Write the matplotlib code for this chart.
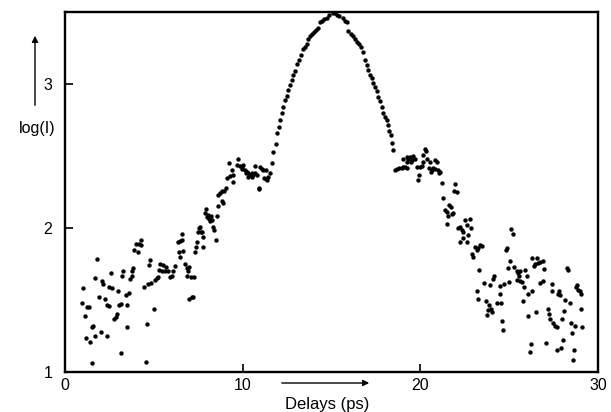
import matplotlib
matplotlib.use("Agg")
import matplotlib.pyplot as plt

plt.rcParams['font.family'] = ['Liberation Sans', 'DejaVu Sans']

# delay (ps) and log(I), left to right in rough groups
delay = [
    # wings, 1-5 ps
    1.78, 4.30, 3.98, 4.16, 4.25, 3.88, 4.11, 4.78, 4.73, 2.57, 3.28, 3.22, 3.81, 3.75, 3.79,
    1.69, 2.06, 2.16, 1.03, 2.48, 2.66, 2.98, 3.66, 4.45, 4.67, 4.86, 3.60, 3.41, 1.91, 2.25,
    0.97, 1.26, 1.35, 2.38, 2.48, 3.17, 3.06, 3.51, 1.13, 2.94, 2.85, 2.76, 5.01, 1.59, 1.54,
    3.51, 4.63, 2.01, 2.35, 1.67, 1.20, 1.41, 3.17, 1.50, 4.58,
    # 5-7.5 ps
    5.35, 5.53, 5.68, 5.27, 5.44, 5.63, 5.81, 6.19, 6.38, 6.47, 6.57, 6.60, 6.43, 6.66, 6.47,
    6.73, 6.85, 6.94, 7.00, 6.88, 7.07, 7.28, 6.06, 6.00, 5.91, 5.25, 5.16, 5.06, 6.98, 7.17, 7.22,
    # 7.3-9.8 ps
    9.75, 9.25, 9.38, 9.47, 9.29, 9.13, 9.47, 9.06, 8.95, 8.82, 8.72, 8.63, 8.82, 8.91, 8.63,
    7.93, 7.88, 8.07, 8.01, 8.12, 8.20, 8.25, 8.16, 8.54, 8.35, 8.40, 7.60, 7.56, 7.50, 7.64,
    7.69, 7.78, 8.50, 7.41, 7.35, 7.75, 7.32,
    # shoulder 9.6-11.6 ps
    9.66, 9.85, 9.98, 9.94, 10.13, 10.22, 10.32, 10.41, 10.51, 10.60, 10.69, 10.79, 10.32, 10.51,
    10.69, 10.97, 11.07, 11.16, 11.31, 11.44, 11.39, 11.31, 11.20, 10.90, 10.94, 11.54, 10.00, 10.19,
    # central peak
    11.63, 11.72, 11.87, 11.95, 12.06, 12.10, 12.19, 12.25, 12.38, 12.47, 12.57, 12.66, 12.76,
    12.85, 12.94, 13.07, 13.19, 13.28, 13.41, 13.51, 13.60, 13.69, 13.79, 13.88, 14.01, 14.12,
    14.25, 14.35, 14.45, 14.58, 14.72, 14.87, 15.06, 15.19, 15.32, 15.44, 15.63, 15.76, 15.85,
    15.94, 16.08, 16.22, 16.32, 16.42, 16.56, 16.66, 16.79, 16.88, 16.98, 17.07, 17.16, 17.26,
    17.35, 17.45, 17.54, 17.63, 17.73, 17.82, 17.91, 18.01, 18.10, 18.20, 18.25,
    # shoulder 18.3-21.3 ps
    18.33, 18.38, 18.44, 19.04, 19.23, 19.32, 19.41, 19.51, 19.60, 19.70, 19.26, 19.45, 18.57,
    18.66, 18.81, 18.95, 19.04, 19.13, 19.23, 19.79, 19.98, 20.07, 20.26, 20.32, 20.16, 20.39,
    20.54, 20.82, 20.92, 20.16, 20.50, 20.63, 20.73, 20.58, 20.82, 21.01, 21.10, 21.06, 19.94,
    19.88, 21.20,
    # 21.3-23.3 ps
    21.95, 21.89, 22.04, 21.29, 21.63, 21.70, 21.38, 21.48, 21.57, 21.82, 21.76, 21.51, 22.51,
    22.79, 22.60, 22.83, 22.23, 22.13, 22.32, 22.41, 22.70, 22.38, 22.23, 22.60, 23.07, 23.17,
    22.89, 22.98, 23.32, 23.20, 23.26,
    # wings, 23.3-29.2 ps
    23.35, 23.48, 23.26, 24.86, 24.80, 23.60, 23.92, 24.16, 24.10, 24.48, 24.72, 24.48, 23.67,
    23.86, 23.97, 23.82, 24.05, 23.73, 24.29, 24.54, 24.61, 24.67, 25.04, 24.95, 25.29, 25.42,
    25.48, 25.61, 25.89, 25.98, 25.57, 25.42, 25.61, 25.70, 24.99, 25.85, 26.30, 26.54, 26.45,
    26.60, 26.73, 26.92, 26.41, 26.97, 26.73, 26.92, 26.30, 26.04, 25.79, 26.49, 26.07, 26.22,
    26.17, 27.10, 27.16, 27.24, 27.29, 27.48, 27.57, 27.67, 27.39, 27.39, 27.80, 27.86, 27.76,
    28.10, 27.99, 28.05, 27.72, 27.91, 28.23, 28.29, 28.17, 28.42, 28.47, 28.70, 28.51, 28.79,
    28.88, 28.98, 29.04, 28.74, 29.04, 29.11, 28.66, 28.57, 25.13, 25.19,
]

log_i = [
    1.785, 1.92, 1.89, 1.89, 1.885, 1.85, 1.83, 1.78, 1.74, 1.69, 1.70, 1.67, 1.72, 1.70, 1.67,
    1.65, 1.63, 1.61, 1.585, 1.59, 1.58, 1.565, 1.645, 1.59, 1.61, 1.62, 1.55, 1.535, 1.52, 1.51,
    1.48, 1.45, 1.45, 1.465, 1.455, 1.47, 1.465, 1.465, 1.39, 1.40, 1.385, 1.37, 1.44, 1.32, 1.31,
    1.315, 1.33, 1.28, 1.25, 1.25, 1.235, 1.21, 1.13, 1.065, 1.07,
    1.75, 1.74, 1.73, 1.71, 1.70, 1.70, 1.70, 1.735, 1.905, 1.91, 1.92, 1.96, 1.835, 1.84, 1.80,
    1.75, 1.72, 1.70, 1.73, 1.67, 1.66, 1.66, 1.70, 1.67, 1.66, 1.66, 1.65, 1.64, 1.51, 1.52, 1.52,
    2.48, 2.45, 2.40, 2.37, 2.36, 2.35, 2.32, 2.275, 2.26, 2.26, 2.24, 2.23, 2.19, 2.175, 2.15,
    2.13, 2.105, 2.09, 2.075, 2.06, 2.08, 2.055, 2.05, 2.08, 2.01, 1.985, 2.01, 2.00, 1.975, 1.97,
    1.975, 1.94, 1.92, 1.905, 1.87, 1.865, 1.83,
    2.44, 2.43, 2.425, 2.41, 2.405, 2.39, 2.38, 2.37, 2.38, 2.37, 2.385, 2.37, 2.355, 2.355,
    2.43, 2.425, 2.41, 2.40, 2.40, 2.355, 2.33, 2.34, 2.345, 2.28, 2.27, 2.385, 2.44, 2.38,
    2.45, 2.53, 2.58, 2.66, 2.70, 2.75, 2.80, 2.84, 2.89, 2.92, 2.96, 2.99, 3.03,
    3.06, 3.09, 3.14, 3.17, 3.20, 3.24, 3.26, 3.28, 3.31, 3.33, 3.35, 3.36, 3.375,
    3.39, 3.43, 3.44, 3.45, 3.46, 3.48, 3.49, 3.49, 3.48, 3.47, 3.455, 3.44, 3.43,
    3.37, 3.35, 3.33, 3.31, 3.29, 3.275, 3.255, 3.225, 3.17, 3.13, 3.10, 3.06, 3.04,
    3.005, 2.98, 2.95, 2.91, 2.88, 2.84, 2.80, 2.77, 2.75, 2.715, 2.675,
    2.645, 2.59, 2.54, 2.48, 2.495, 2.48, 2.49, 2.47, 2.50, 2.48, 2.46, 2.46, 2.40,
    2.41, 2.415, 2.42, 2.425, 2.425, 2.415, 2.425, 2.425, 2.43, 2.55, 2.535, 2.51, 2.48,
    2.455, 2.47, 2.46, 2.455, 2.415, 2.40, 2.42, 2.39, 2.41, 2.40, 2.39, 2.38, 2.37,
    2.33, 2.315,
    2.305, 2.26, 2.25, 2.205, 2.16, 2.145, 2.125, 2.11, 2.085, 2.105, 2.10, 2.03, 2.055,
    2.06, 2.02, 2.00, 2.01, 2.00, 1.985, 1.975, 1.95, 1.93, 1.905, 1.905, 1.865, 1.85,
    1.82, 1.80, 1.71, 1.565, 1.51,
    1.88, 1.875, 1.86, 1.86, 1.85, 1.62, 1.605, 1.67, 1.645, 1.60, 1.61, 1.54, 1.49,
    1.465, 1.44, 1.43, 1.42, 1.395, 1.48, 1.48, 1.355, 1.29, 1.77, 1.72, 1.73, 1.70,
    1.685, 1.70, 1.705, 1.665, 1.67, 1.64, 1.635, 1.625, 1.625, 1.59, 1.795, 1.795, 1.75,
    1.76, 1.765, 1.77, 1.735, 1.715, 1.615, 1.635, 1.565, 1.545, 1.495, 1.42, 1.39, 1.195,
    1.14, 1.20, 1.44, 1.40, 1.37, 1.34, 1.32, 1.31, 1.61, 1.565, 1.56, 1.535, 1.545,
    1.425, 1.365, 1.225, 1.15, 1.17, 1.72, 1.705, 1.50, 1.48, 1.34, 1.32, 1.27, 1.605,
    1.57, 1.56, 1.545, 1.59, 1.44, 1.31, 1.15, 1.08, 1.99, 1.96,
]

x_ticks = [0, 10, 20, 30]
y_ticks = [1, 2, 3]

fig = plt.figure(figsize=(6.11, 4.12), dpi=100)
ax = fig.add_axes([65 / 611, 40 / 412, 533 / 611, 360 / 412])

ax.scatter(delay, log_i, s=10, color='black', linewidths=0, zorder=3)

ax.set_xlim(0, 30)
ax.set_ylim(1, 3.5)
ax.set_xticks(x_ticks)
ax.set_yticks(y_ticks)
ax.set_xticklabels([str(t) for t in x_ticks])
ax.set_yticklabels([str(t) for t in y_ticks])
ax.tick_params(direction='in', length=6, width=1.2, labelsize=11.5, colors='black')
ax.tick_params(axis='x', pad=4)
ax.tick_params(axis='y', pad=9)
for sp in ax.spines.values():
    sp.set_linewidth(1.7)

# hand-drawn style axis annotations with arrows
fig.text(37 / 611, 1 - 128 / 412, 'log(I)', ha='center', va='center', fontsize=11.5)
ax.annotate('', xy=(35 / 611, 1 - 33 / 412), xytext=(35 / 611, 1 - 108 / 412),
            xycoords='figure fraction', textcoords='figure fraction',
            arrowprops=dict(arrowstyle='-|>', lw=1, color='black', mutation_scale=9))
fig.text(327 / 611, 1 - 404 / 412, 'Delays (ps)', ha='center', va='center', fontsize=12)
ax.annotate('', xy=(372 / 611, 1 - 383 / 412), xytext=(279 / 611, 1 - 383 / 412),
            xycoords='figure fraction', textcoords='figure fraction',
            arrowprops=dict(arrowstyle='-|>', lw=1, color='black', mutation_scale=9),
            annotation_clip=False)

fig.savefig('out.png', dpi=100)
